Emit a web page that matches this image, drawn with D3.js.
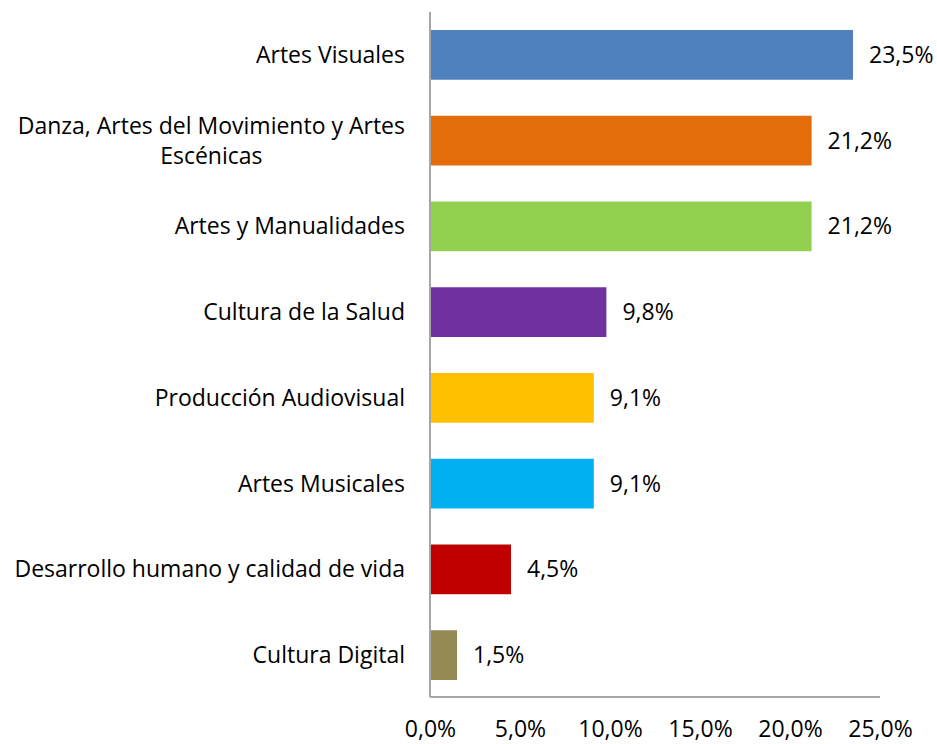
<!DOCTYPE html>
<html>
<head>
<meta charset="utf-8">
<script src="https://cdn.jsdelivr.net/npm/d3@7"></script>
<style>
  body { margin: 0; background: #fff; }
  svg { font-family: "Open Sans", Lato, sans-serif; }
</style>
</head>
<body>
<div id="container"></div>
<script>
/* DATA */
const categories = [
  "Artes Visuales",
  "Danza, Artes del Movimiento y Artes|Escénicas",
  "Artes y Manualidades",
  "Cultura de la Salud",
  "Producción Audiovisual",
  "Artes Musicales",
  "Desarrollo humano y calidad de vida",
  "Cultura Digital"
];
const values = [23.5, 21.2, 21.2, 9.8, 9.1, 9.1, 4.5, 1.5];
const colors = ["#4f81bd", "#e46c0a", "#92d050", "#7030a0", "#ffc000", "#00b0f0", "#c00000", "#948a54"];
const xTicks = [0, 5, 10, 15, 20, 25];

/* CONSTANTS */
const width = 937,
      height = 744,
      plotLeft = 430,
      plotRight = 880,
      plotTop = 12,
      plotBottom = 697,
      fontSize = 23;

const fmt = v => d3.format(".1f")(v).replace(".", ",") + "%";

const svg = d3.select("#container")
  .append("svg")
  .attr("width", width)
  .attr("height", height);

// + SCALES
const xScale = d3.scaleLinear()
  .domain([0, 25])
  .range([plotLeft, plotRight]);

const yScale = d3.scaleBand()
  .domain(categories)
  .range([plotTop, plotBottom + 1])
  .paddingInner(0.42)
  .paddingOuter(0.21);

// + BARS
svg.selectAll(".bar")
  .data(categories)
  .join("rect")
    .attr("class", "bar")
    .attr("x", xScale(0))
    .attr("y", d => yScale(d))
    .attr("width", (d, i) => xScale(values[i]) - xScale(0))
    .attr("height", yScale.bandwidth())
    .attr("fill", (d, i) => colors[i]);

// value labels
svg.selectAll(".value")
  .data(categories)
  .join("text")
    .attr("class", "value")
    .attr("x", (d, i) => xScale(values[i]) + 16)
    .attr("y", d => yScale(d) + yScale.bandwidth() / 2)
    .attr("dy", "0.35em")
    .attr("font-size", fontSize)
    .attr("fill", "#000")
    .text((d, i) => fmt(values[i]));

// + AXES
const yAxis = d3.axisLeft(yScale).tickSize(0).tickPadding(25).tickFormat("");
const gy = svg.append("g")
  .attr("transform", `translate(${plotLeft},0)`)
  .call(yAxis);
gy.select(".domain")
  .attr("d", `M0,${plotTop}V${plotBottom}`)
  .attr("stroke", "#a6a6a6")
  .attr("stroke-width", 2);

// category labels (multi-line centred, right edge at axis - 25)
const labelRight = plotLeft - 25;
categories.forEach(c => {
  const lines = c.split("|");
  const cy = yScale(c) + yScale.bandwidth() / 2;
  const g = svg.append("text")
    .attr("font-size", fontSize)
    .attr("fill", "#000");
  if (lines.length === 1) {
    g.attr("x", labelRight).attr("y", cy).attr("dy", "0.35em")
      .attr("text-anchor", "end").text(c);
  } else {
    // measure the widest line and centre the rest under it
    const tmp = g.append("tspan").text(lines[0]);
    const w = tmp.node().getComputedTextLength();
    tmp.remove();
    const cx = labelRight - w / 2;
    const lh = 30;
    lines.forEach((l, j) => {
      g.append("tspan")
        .attr("x", cx)
        .attr("y", cy + (j - (lines.length - 1) / 2) * lh)
        .attr("dy", "0.35em")
        .attr("text-anchor", "middle")
        .text(l);
    });
  }
});

const xAxis = d3.axisBottom(xScale)
  .tickValues(xTicks)
  .tickSize(0)
  .tickPadding(24)
  .tickFormat(fmt);
const gx = svg.append("g")
  .attr("transform", `translate(0,${plotBottom})`)
  .call(xAxis);
gx.select(".domain")
  .attr("d", `M${plotLeft},0H${plotRight}`)
  .attr("stroke", "#a6a6a6")
  .attr("stroke-width", 2);
gx.selectAll(".tick text")
  .attr("font-size", fontSize)
  .attr("font-family", "'Open Sans', Lato, sans-serif")
  .attr("fill", "#000");
</script>
</body>
</html>
